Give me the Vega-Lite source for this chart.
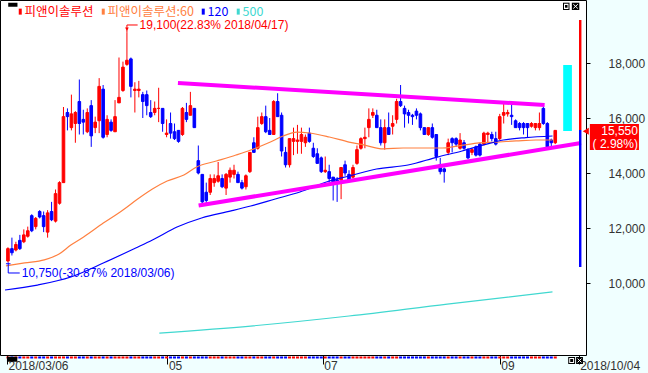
{
"$schema":"https://vega.github.io/schema/vega-lite/v6.json",
"width":586,"height":355,
"autosize":{"type":"none"},
"padding":{"left":0,"top":0,"right":62,"bottom":18},
"background":"#F0FFFF",
"view":{"fill":"#FFFFFF","stroke":"#000000","strokeWidth":1},
"config":{"numberFormat":","},
"datasets":{
"candles":[
{"i":0,"o":10800,"h":11300,"l":10750,"c":11250},
{"i":1,"o":11250,"h":11650,"l":11000,"c":11100},
{"i":2,"o":11200,"h":11500,"l":11150,"c":11400},
{"i":3,"o":11550,"h":11750,"l":11200,"c":11250},
{"i":4,"o":11500,"h":11950,"l":11450,"c":11750},
{"i":5,"o":11700,"h":12050,"l":11650,"c":11900},
{"i":6,"o":12450,"h":12500,"l":11850,"c":11900},
{"i":7,"o":12050,"h":12400,"l":11950,"c":12350},
{"i":8,"o":12600,"h":12650,"l":12350,"c":12400},
{"i":9,"o":12450,"h":12600,"l":11850,"c":12050},
{"i":10,"o":11850,"h":12650,"l":11650,"c":12550},
{"i":11,"o":12600,"h":12950,"l":12250,"c":12300},
{"i":12,"o":12250,"h":13400,"l":12200,"c":13250},
{"i":13,"o":12900,"h":13700,"l":12850,"c":13650},
{"i":14,"o":13650,"h":16400,"l":13650,"c":16050},
{"i":15,"o":16200,"h":16350,"l":15550,"c":16050},
{"i":16,"o":15650,"h":16850,"l":15550,"c":16150},
{"i":17,"o":15800,"h":16250,"l":15100,"c":16200},
{"i":18,"o":16600,"h":17400,"l":15400,"c":15800},
{"i":19,"o":15950,"h":16300,"l":15400,"c":15850},
{"i":20,"o":15500,"h":16350,"l":15450,"c":16200},
{"i":21,"o":16450,"h":16650,"l":14950,"c":15350},
{"i":22,"o":15650,"h":16050,"l":15450,"c":15850},
{"i":23,"o":15900,"h":17450,"l":15450,"c":17150},
{"i":24,"o":17050,"h":17200,"l":15250,"c":15300},
{"i":25,"o":15400,"h":16100,"l":15300,"c":15950},
{"i":26,"o":15850,"h":15950,"l":15500,"c":15550},
{"i":27,"o":15500,"h":16650,"l":15500,"c":16050},
{"i":28,"o":16550,"h":18200,"l":16550,"c":16750},
{"i":29,"o":17000,"h":18050,"l":16950,"c":17850},
{"i":30,"o":17950,"h":19100,"l":17900,"c":18100},
{"i":31,"o":18150,"h":18200,"l":16750,"c":17150},
{"i":32,"o":17000,"h":17300,"l":16200,"c":17050},
{"i":33,"o":17000,"h":17350,"l":16750,"c":17050},
{"i":34,"o":16850,"h":16950,"l":16000,"c":16600},
{"i":35,"o":16850,"h":17000,"l":16100,"c":16450},
{"i":36,"o":16200,"h":16650,"l":16000,"c":16050},
{"i":37,"o":16200,"h":16600,"l":16100,"c":16350},
{"i":38,"o":16350,"h":17100,"l":15850,"c":16350},
{"i":39,"o":16350,"h":16350,"l":15500,"c":15800},
{"i":40,"o":15400,"h":15950,"l":15300,"c":15450},
{"i":41,"o":15800,"h":16200,"l":15250,"c":15450},
{"i":42,"o":15500,"h":15800,"l":15200,"c":15250},
{"i":43,"o":15550,"h":15550,"l":15100,"c":15150},
{"i":44,"o":15400,"h":16400,"l":15350,"c":16350},
{"i":45,"o":16200,"h":16550,"l":15850,"c":15950},
{"i":46,"o":16100,"h":16950,"l":16100,"c":16450},
{"i":47,"o":16350,"h":16350,"l":15650,"c":15650},
{"i":48,"o":14450,"h":15000,"l":13950,"c":14000},
{"i":49,"o":13950,"h":13950,"l":12900,"c":12950},
{"i":50,"o":13300,"h":13650,"l":12900,"c":13000},
{"i":51,"o":13300,"h":13950,"l":13200,"c":13800},
{"i":52,"o":13650,"h":13950,"l":13500,"c":13800},
{"i":53,"o":13700,"h":14400,"l":13650,"c":13900},
{"i":54,"o":13800,"h":13950,"l":13450,"c":13500},
{"i":55,"o":13450,"h":14000,"l":13200,"c":13950},
{"i":56,"o":13850,"h":14200,"l":13650,"c":14100},
{"i":57,"o":13950,"h":14300,"l":13800,"c":14100},
{"i":58,"o":13950,"h":14050,"l":13650,"c":13650},
{"i":59,"o":13650,"h":13750,"l":13400,"c":13450},
{"i":60,"o":13500,"h":13950,"l":13400,"c":13900},
{"i":61,"o":14050,"h":14750,"l":14000,"c":14750},
{"i":62,"o":15100,"h":15300,"l":14750,"c":14750},
{"i":63,"o":14900,"h":16050,"l":14850,"c":15650},
{"i":64,"o":15800,"h":16200,"l":15750,"c":16050},
{"i":65,"o":16050,"h":16450,"l":15450,"c":15500},
{"i":66,"o":15550,"h":16000,"l":15400,"c":15400},
{"i":67,"o":15400,"h":16650,"l":15400,"c":16600},
{"i":68,"o":16600,"h":16900,"l":16050,"c":16050},
{"i":69,"o":16100,"h":16200,"l":14600,"c":14800},
{"i":70,"o":14750,"h":14950,"l":14200,"c":14300},
{"i":71,"o":14300,"h":15250,"l":14200,"c":15250},
{"i":72,"o":15150,"h":15650,"l":14650,"c":15250},
{"i":73,"o":15150,"h":15750,"l":14700,"c":15200},
{"i":74,"o":15150,"h":15650,"l":14700,"c":15400},
{"i":75,"o":15100,"h":15400,"l":14950,"c":15300},
{"i":76,"o":15450,"h":15650,"l":15100,"c":15150},
{"i":77,"o":14900,"h":15100,"l":14550,"c":14600},
{"i":78,"o":14700,"h":14900,"l":14350,"c":14350},
{"i":79,"o":14550,"h":14600,"l":14000,"c":14050},
{"i":80,"o":14050,"h":14600,"l":14000,"c":14100},
{"i":81,"o":14050,"h":14300,"l":13650,"c":13800},
{"i":82,"o":13850,"h":13850,"l":13000,"c":13650},
{"i":83,"o":13750,"h":13850,"l":12950,"c":13650},
{"i":84,"o":13750,"h":14200,"l":13050,"c":14200},
{"i":85,"o":14300,"h":14450,"l":13900,"c":14000},
{"i":86,"o":13950,"h":14100,"l":13700,"c":13750},
{"i":87,"o":13850,"h":14300,"l":13800,"c":14200},
{"i":88,"o":14350,"h":15000,"l":14300,"c":14850},
{"i":89,"o":14900,"h":15300,"l":14850,"c":15250},
{"i":90,"o":15250,"h":15650,"l":14900,"c":15300},
{"i":91,"o":15650,"h":16350,"l":15300,"c":15950},
{"i":92,"o":16100,"h":16350,"l":16000,"c":16200},
{"i":93,"o":16100,"h":16300,"l":15650,"c":15650},
{"i":94,"o":15650,"h":15950,"l":15000,"c":15100},
{"i":95,"o":15100,"h":15950,"l":14850,"c":15650},
{"i":96,"o":15650,"h":16200,"l":15400,"c":15400},
{"i":97,"o":15700,"h":16100,"l":15400,"c":15800},
{"i":98,"o":15950,"h":16700,"l":15800,"c":16600},
{"i":99,"o":16600,"h":17200,"l":16400,"c":16450},
{"i":100,"o":16350,"h":16450,"l":15650,"c":16150},
{"i":101,"o":16200,"h":16300,"l":15800,"c":16100},
{"i":102,"o":16100,"h":16150,"l":15750,"c":16050},
{"i":103,"o":16250,"h":16350,"l":15950,"c":16100},
{"i":104,"o":16150,"h":16200,"l":15550,"c":15650},
{"i":105,"o":15650,"h":15650,"l":15400,"c":15400},
{"i":106,"o":15400,"h":15650,"l":15350,"c":15650},
{"i":107,"o":15650,"h":15800,"l":15250,"c":15300},
{"i":108,"o":15400,"h":15400,"l":14450,"c":14600},
{"i":109,"o":14300,"h":14550,"l":13950,"c":14050},
{"i":110,"o":14150,"h":14200,"l":13650,"c":14050},
{"i":111,"o":14750,"h":15250,"l":14650,"c":15100},
{"i":112,"o":15250,"h":15300,"l":14750,"c":15100},
{"i":113,"o":15250,"h":15300,"l":14950,"c":15050},
{"i":114,"o":14900,"h":15450,"l":14850,"c":15200},
{"i":115,"o":15100,"h":15200,"l":14850,"c":14900},
{"i":116,"o":14850,"h":14900,"l":14500,"c":14550},
{"i":117,"o":14750,"h":14900,"l":14650,"c":14850},
{"i":118,"o":14950,"h":15000,"l":14600,"c":14650},
{"i":119,"o":15050,"h":15100,"l":14600,"c":14650},
{"i":120,"o":15050,"h":15500,"l":15000,"c":15450},
{"i":121,"o":15400,"h":15500,"l":15100,"c":15450},
{"i":122,"o":15400,"h":15500,"l":15150,"c":15250},
{"i":123,"o":15250,"h":15500,"l":15000,"c":15050},
{"i":124,"o":15250,"h":16150,"l":15200,"c":16050},
{"i":125,"o":16100,"h":16550,"l":15800,"c":16200},
{"i":126,"o":16150,"h":16300,"l":16050,"c":16200},
{"i":127,"o":16100,"h":16550,"l":15750,"c":16050},
{"i":128,"o":15900,"h":15950,"l":15650,"c":15650},
{"i":129,"o":15800,"h":15850,"l":15550,"c":15650},
{"i":130,"o":15800,"h":15850,"l":15400,"c":15650},
{"i":131,"o":15800,"h":15800,"l":15300,"c":15650},
{"i":132,"o":15700,"h":15850,"l":15650,"c":15800},
{"i":133,"o":15650,"h":15800,"l":15550,"c":15800},
{"i":134,"o":15650,"h":16200,"l":15550,"c":15800},
{"i":135,"o":16350,"h":16400,"l":15750,"c":15800},
{"i":136,"o":15800,"h":15850,"l":14900,"c":14950},
{"i":137,"o":15200,"h":15250,"l":14950,"c":15100},
{"i":138,"o":15100,"h":15550,"l":15050,"c":15550}
],
"ma":[
{"s":"피앤이솔루션:60","i":-0.5,"v":10620},{"s":"피앤이솔루션:60","i":4.21,"v":10730},{"s":"피앤이솔루션:60","i":9.17,"v":10840},{"s":"피앤이솔루션:60","i":12.89,"v":11055},{"s":"피앤이솔루션:60","i":15.86,"v":11380},{"s":"피앤이솔루션:60","i":19.08,"v":11675},{"s":"피앤이솔루션:60","i":24.04,"v":12180},{"s":"피앤이솔루션:60","i":29.0,"v":12655},{"s":"피앤이솔루션:60","i":32.71,"v":13055},{"s":"피앤이솔루션:60","i":36.43,"v":13420},{"s":"피앤이솔루션:60","i":40.15,"v":13710},{"s":"피앤이솔루션:60","i":44.36,"v":13925},{"s":"피앤이솔루션:60","i":47.58,"v":14220},{"s":"피앤이솔루션:60","i":52.54,"v":14435},{"s":"피앤이솔루션:60","i":57.5,"v":14655},{"s":"피앤이솔루션:60","i":61.21,"v":14835},{"s":"피앤이솔루션:60","i":66.17,"v":15125},{"s":"피앤이솔루션:60","i":69.39,"v":15345},{"s":"피앤이솔루션:60","i":72.86,"v":15490},{"s":"피앤이솔루션:60","i":76.08,"v":15455},{"s":"피앤이솔루션:60","i":81.04,"v":15310},{"s":"피앤이솔루션:60","i":86.0,"v":15125},{"s":"피앤이솔루션:60","i":89.71,"v":15020},{"s":"피앤이솔루션:60","i":94.67,"v":14875},{"s":"피앤이솔루션:60","i":99.63,"v":14910},{"s":"피앤이솔루션:60","i":104.58,"v":14910},{"s":"피앤이솔루션:60","i":109.54,"v":14910},{"s":"피앤이솔루션:60","i":113.26,"v":14980},{"s":"피앤이솔루션:60","i":118.22,"v":15090},{"s":"피앤이솔루션:60","i":123.17,"v":15125},{"s":"피앤이솔루션:60","i":128.13,"v":15165},{"s":"피앤이솔루션:60","i":133.09,"v":15200},{"s":"피앤이솔루션:60","i":137.3,"v":15200},
{"s":"120","i":-0.74,"v":9745},{"s":"120","i":7.43,"v":9925},{"s":"120","i":15.86,"v":10220},{"s":"120","i":24.04,"v":10725},{"s":"120","i":32.22,"v":11275},{"s":"120","i":36.43,"v":11565},{"s":"120","i":42.63,"v":12035},{"s":"120","i":48.82,"v":12365},{"s":"120","i":56.26,"v":12620},{"s":"120","i":61.21,"v":12800},{"s":"120","i":67.41,"v":13055},{"s":"120","i":73.61,"v":13310},{"s":"120","i":81.04,"v":13710},{"s":"120","i":86.0,"v":13890},{"s":"120","i":92.94,"v":14145},{"s":"120","i":100.87,"v":14290},{"s":"120","i":108.3,"v":14580},{"s":"120","i":114.5,"v":14800},{"s":"120","i":119.95,"v":15020},{"s":"120","i":124.91,"v":15200},{"s":"120","i":130.61,"v":15290},{"s":"120","i":137.3,"v":15345},
{"s":"500","i":38.17,"v":8180},{"s":"500","i":61.21,"v":8435},{"s":"500","i":86.0,"v":8800},{"s":"500","i":110.78,"v":9235},{"s":"500","i":137.3,"v":9675}
],
"trend":[
{"t":"upper","i":42.87,"v":17273},{"t":"upper","i":135.32,"v":16473},
{"t":"lower","i":48.08,"v":12818},{"t":"lower","i":144.49,"v":15091}
]
},
"layer":[
{"data":{"name":"candles"},"mark":{"type":"rule","strokeWidth":1},
 "encoding":{
  "x":{"field":"i","type":"quantitative","scale":{"domain":[-0.7435,144.49],"nice":false,"zero":false},
   "axis":{"values":[-0.25,40.2,79.4,124.0,143.9],"labelExpr":"datum.value < 10 ? '2018/03/06' : datum.value < 60 ? '05' : datum.value < 100 ? '07' : datum.value < 135 ? '09' : '2018/10/04'","title":null,"grid":false,"domain":false,"ticks":true,"tickSize":9,"tickColor":"#000000","labelPadding":1,"labelAlign":"left","labelBaseline":"middle","labelFlush":false,"labelOverlap":false,"labelBound":false,"labelFont":"Liberation Sans","labelFontSize":12,"labelColor":"#333333","labelOffset":1}},
  "y":{"field":"l","type":"quantitative","scale":{"domain":[7382,20291],"nice":false,"zero":false},
   "axis":{"orient":"right","values":[10000,12000,14000,16000,18000],"format":",","labelExpr":"format(datum.value, ',')","title":null,"grid":false,"domain":false,"ticks":true,"tickSize":4,"tickColor":"#000000","labelPadding":18,"labelAlign":"left","labelFlush":false,"labelOverlap":false,"labelFont":"Liberation Sans","labelFontSize":12,"labelColor":"#333333"}},
  "y2":{"field":"h"},
  "color":{"condition":{"test":"datum.c >= datum.o","value":"#FF0000"},"value":"#0000FF"}}},
{"data":{"name":"candles"},"mark":{"type":"bar","size":3},
 "encoding":{
  "x":{"field":"i","type":"quantitative"},
  "y":{"datum":7328,"type":"quantitative"},
  "y2":{"datum":7255},
  "color":{"condition":{"test":"datum.c >= datum.o","value":"#FF0000"},"value":"#0000FF"}}},
{"data":{"name":"candles"},"mark":{"type":"bar","size":2.6,"strokeWidth":1},
 "encoding":{"x":{"field":"i","type":"quantitative"},"y":{"field":"o","type":"quantitative"},"y2":{"field":"c"},
  "fill":{"condition":{"test":"datum.c >= datum.o","value":"#FF0000"},"value":"#0000FF"},
  "stroke":{"condition":{"test":"datum.c >= datum.o","value":"#FF0000"},"value":"#0000FF"}}},
{"data":{"name":"ma"},"mark":{"type":"line","strokeWidth":1.2,"interpolate":"monotone"},
 "encoding":{"x":{"field":"i","type":"quantitative"},"y":{"field":"v","type":"quantitative"},
  "color":{"field":"s","type":"nominal","scale":{"domain":["피앤이솔루션","피앤이솔루션:60","120","500"],"range":["#FF0000","#FF8040","#0000FF","#40D8D0"]},
   "legend":{"title":null,"orient":"none","legendX":14,"legendY":5,"direction":"horizontal","symbolType":"M0,-1L0,1","symbolSize":36,"symbolStrokeWidth":3,"labelFont":"Noto Sans CJK KR","labelFontSize":12.5,"labelOffset":-2,"columnPadding":3,"padding":0,"labelLimit":300,"labelColor":{"expr":"scale('color', datum.value)"}}}}},
{"data":{"name":"trend"},"mark":{"type":"line","strokeWidth":4,"color":"#FF00FF","strokeCap":"butt"},
 "encoding":{"x":{"field":"i","type":"quantitative"},"y":{"field":"v","type":"quantitative"},"detail":{"field":"t"}}},
{"data":{"values":[{}]},"mark":{"type":"rule","color":"#FF0000","strokeWidth":1},
 "encoding":{"x":{"datum":30,"type":"quantitative"},"y":{"datum":19382,"type":"quantitative"},"y2":{"datum":19100}}},
{"data":{"values":[{}]},"mark":{"type":"rule","color":"#FF0000","strokeWidth":1},
 "encoding":{"x":{"datum":30,"type":"quantitative"},"x2":{"datum":32.7},"y":{"datum":19382,"type":"quantitative"}}},
{"data":{"values":[{}]},"mark":{"type":"point","shape":"triangle-down","filled":true,"color":"#FF0000","size":14,"opacity":1},
 "encoding":{"x":{"datum":30,"type":"quantitative"},"y":{"datum":19230,"type":"quantitative"}}},
{"data":{"values":[{}]},"mark":{"type":"text","text":"19,100(22.83% 2018/04/17)","align":"left","baseline":"middle","font":"Liberation Sans","fontSize":12,"color":"#FF0000"},
 "encoding":{"x":{"datum":33.2,"type":"quantitative"},"y":{"datum":19382,"type":"quantitative"}}},
{"data":{"values":[{}]},"mark":{"type":"rule","color":"#0000FF","strokeWidth":1},
 "encoding":{"x":{"datum":0.07,"type":"quantitative"},"y":{"datum":10750,"type":"quantitative"},"y2":{"datum":10364}}},
{"data":{"values":[{}]},"mark":{"type":"rule","color":"#0000FF","strokeWidth":1},
 "encoding":{"x":{"datum":0.07,"type":"quantitative"},"x2":{"datum":2.97},"y":{"datum":10364,"type":"quantitative"}}},
{"data":{"values":[{}]},"mark":{"type":"rule","color":"#0000FF","strokeWidth":1},
 "encoding":{"x":{"datum":-0.5,"type":"quantitative"},"x2":{"datum":0.65},"y":{"datum":10700,"type":"quantitative"}}},
{"data":{"values":[{}]},"mark":{"type":"text","text":"10,750(-30.87% 2018/03/06)","align":"left","baseline":"middle","font":"Liberation Sans","fontSize":12,"color":"#0000FF"},
 "encoding":{"x":{"datum":3.47,"type":"quantitative"},"y":{"datum":10364,"type":"quantitative"}}},
{"data":{"values":[{}]},"mark":{"type":"rect","color":"#FF0000"},
 "encoding":{"x":{"datum":143.99,"type":"quantitative"},"x2":{"datum":144.6},"y":{"datum":19564,"type":"quantitative"},"y2":{"datum":15564}}},
{"data":{"values":[{}]},"mark":{"type":"rect","color":"#0000FF"},
 "encoding":{"x":{"datum":143.99,"type":"quantitative"},"x2":{"datum":144.6},"y":{"datum":15564,"type":"quantitative"},"y2":{"datum":10582}}},
{"data":{"values":[{}]},"mark":{"type":"rect","color":"#00FFFF"},
 "encoding":{"x":{"datum":140.0,"type":"quantitative"},"x2":{"datum":142.2},"y":{"datum":17927,"type":"quantitative"},"y2":{"datum":15527}}},
{"data":{"values":[{}]},"mark":{"type":"rect","color":"#FF0000"},
 "encoding":{"x":{"datum":146.72,"type":"quantitative"},"x2":{"datum":159.1},"y":{"datum":15782,"type":"quantitative"},"y2":{"datum":14837}}},
{"data":{"values":[{}]},"mark":{"type":"point","shape":"triangle-left","filled":true,"color":"#FF0000","size":49,"opacity":1},
 "encoding":{"x":{"datum":145.7,"type":"quantitative"},"y":{"datum":15520,"type":"quantitative"}}},
{"data":{"values":[{}]},"mark":{"type":"text","text":"15,550","align":"right","baseline":"middle","font":"Liberation Sans","fontSize":12,"color":"#FFFFFF"},
 "encoding":{"x":{"datum":158.85,"type":"quantitative"},"y":{"datum":15520,"type":"quantitative"}}},
{"data":{"values":[{}]},"mark":{"type":"text","text":"( 2.98%)","align":"right","baseline":"middle","font":"Liberation Sans","fontSize":12,"color":"#FFFFFF"},
 "encoding":{"x":{"datum":158.85,"type":"quantitative"},"y":{"datum":15055,"type":"quantitative"}}},
{"data":{"values":[{}]},"mark":{"type":"rect","color":"#000000"},
 "encoding":{"x":{"datum":0.07,"type":"quantitative"},"x2":{"datum":2.4},"y":{"datum":20193,"type":"quantitative"},"y2":{"datum":20047}}},
{"data":{"values":[{}]},"mark":{"type":"rect","color":"#000000"},
 "encoding":{"x":{"datum":-0.25,"type":"quantitative"},"x2":{"datum":2.35},"y":{"datum":7321,"type":"quantitative"},"y2":{"datum":7139}}},
{"data":{"values":[{}]},"mark":{"type":"rect","color":"#000000"},
 "encoding":{"x":{"datum":139.95,"type":"quantitative"},"x2":{"datum":141.59},"y":{"datum":20193,"type":"quantitative"},"y2":{"datum":19927}}},
{"data":{"values":[{}]},"mark":{"type":"rect","color":"#FFFFFF"},
 "encoding":{"x":{"datum":140.2,"type":"quantitative"},"x2":{"datum":141.34},"y":{"datum":20156,"type":"quantitative"},"y2":{"datum":19964}}},
{"data":{"values":[{}]},"mark":{"type":"rect","color":"#000000"},
 "encoding":{"x":{"datum":140.45,"type":"quantitative"},"x2":{"datum":141.09},"y":{"datum":20110,"type":"quantitative"},"y2":{"datum":20010}}},
{"data":{"values":[{}]},"mark":{"type":"rect","color":"#000000"},
 "encoding":{"x":{"datum":142.18,"type":"quantitative"},"x2":{"datum":144.06},"y":{"datum":20193,"type":"quantitative"},"y2":{"datum":19927}}},
{"data":{"values":[{}]},"mark":{"type":"rule","color":"#FFFFFF","strokeWidth":1},
 "encoding":{"x":{"datum":142.55,"type":"quantitative"},"x2":{"datum":143.69},"y":{"datum":20138,"type":"quantitative"},"y2":{"datum":19982}}},
{"data":{"values":[{}]},"mark":{"type":"rule","color":"#FFFFFF","strokeWidth":1},
 "encoding":{"x":{"datum":142.55,"type":"quantitative"},"x2":{"datum":143.69},"y":{"datum":19982,"type":"quantitative"},"y2":{"datum":20138}}},
{"data":{"values":[{}]},"mark":{"type":"rect","color":"#000000"},
 "encoding":{"x":{"datum":141.27,"type":"quantitative"},"x2":{"datum":143.0},"y":{"datum":7310,"type":"quantitative"},"y2":{"datum":7055}}},
{"data":{"values":[{}]},"mark":{"type":"rect","color":"#FFFFFF"},
 "encoding":{"x":{"datum":141.52,"type":"quantitative"},"x2":{"datum":142.75},"y":{"datum":7273,"type":"quantitative"},"y2":{"datum":7092}}},
{"data":{"values":[{}]},"mark":{"type":"rect","color":"#000000"},
 "encoding":{"x":{"datum":141.77,"type":"quantitative"},"x2":{"datum":142.5},"y":{"datum":7237,"type":"quantitative"},"y2":{"datum":7128}}},
{"data":{"values":[{}]},"mark":{"type":"rect","color":"#000000"},
 "encoding":{"x":{"datum":143.25,"type":"quantitative"},"x2":{"datum":144.98},"y":{"datum":7310,"type":"quantitative"},"y2":{"datum":7055}}},
{"data":{"values":[{}]},"mark":{"type":"rule","color":"#FFFFFF","strokeWidth":1},
 "encoding":{"x":{"datum":143.62,"type":"quantitative"},"x2":{"datum":144.61},"y":{"datum":7255,"type":"quantitative"},"y2":{"datum":7110}}},
{"data":{"values":[{}]},"mark":{"type":"rule","color":"#FFFFFF","strokeWidth":1},
 "encoding":{"x":{"datum":143.62,"type":"quantitative"},"x2":{"datum":144.61},"y":{"datum":7110,"type":"quantitative"},"y2":{"datum":7255}}}
]
}
